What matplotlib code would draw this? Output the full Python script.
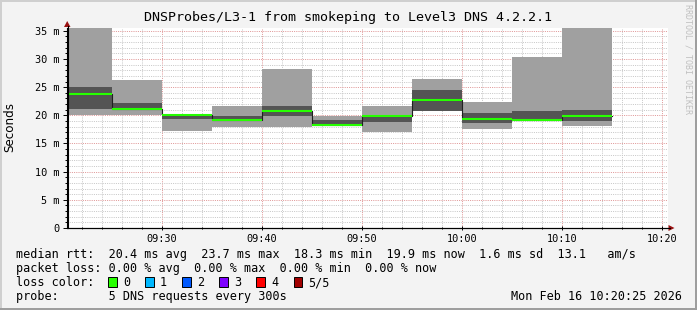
import matplotlib
matplotlib.use("Agg")
import matplotlib.pyplot as plt
from matplotlib.patches import Rectangle, Polygon
from matplotlib.ticker import FixedLocator, MultipleLocator

W, H = 697, 310

title = "DNSProbes/L3-1 from smokeping to Level3 DNS 4.2.2.1"

# one bin every 5 minutes, 5 pings sorted per bin (ms)
bin_starts = ["09:20", "09:25", "09:30", "09:35", "09:40", "09:45",
              "09:50", "09:55", "10:00", "10:05", "10:10"]
ping_min = [20.1, 20.1, 17.3, 17.9, 17.9, 18.2, 17.0, 20.7, 17.5, 19.0, 18.1]
ping_lo = [21.2, 21.0, 19.3, 19.0, 19.9, 18.25, 18.8, 20.8, 18.7, 19.0, 19.05]
median = [23.7, 21.1, 20.1, 19.1, 20.8, 18.3, 19.8, 22.7, 19.4, 19.1, 19.9]
ping_hi = [25.0, 22.2, 20.1, 19.9, 21.65, 19.2, 20.0, 24.5, 20.4, 20.8, 20.95]
ping_max = [38.0, 26.3, 20.25, 21.65, 28.2, 19.9, 21.65, 26.45, 22.35, 30.3, 37.0]

x_ticks = ["09:30", "09:40", "09:50", "10:00", "10:10", "10:20"]
y_ticks = [0, 5, 10, 15, 20, 25, 30, 35]
y_labels = ["0", "5 m", "10 m", "15 m", "20 m", "25 m", "30 m", "35 m"]

loss_labels = ["0", "1", "2", "3", "4", "5/5"]
loss_colors = ["#26ff00", "#00b8ff", "#0059ff", "#7e00ff", "#ff0000", "#a10000"]

legend_lines = [
    "median rtt:  20.4 ms avg  23.7 ms max  18.3 ms min  19.9 ms now  1.6 ms sd  13.1   am/s",
    "packet loss: 0.00 % avg  0.00 % max  0.00 % min  0.00 % now",
    "loss color:",
    "probe:       5 DNS requests every 300s",
]
stamp = "Mon Feb 16 10:20:25 2026"


def minutes(hhmm):
    h, m = hhmm.split(":")
    return int(h) * 60 + int(m)


def fx(x):
    return x / W


def fy(y):
    return 1 - y / H


plt.rcParams['font.family'] = ['DejaVu Sans Mono']

fig = plt.figure(figsize=(W / 100, H / 100), dpi=100)
fig.patch.set_facecolor("#f3f3f3")

# 3d-ish frame around the canvas
fig.patches.append(Rectangle((0, fy(2)), 1, 2 / H, transform=fig.transFigure,
                             color="#cfcfcf", lw=0))
fig.patches.append(Rectangle((0, 0), 2 / W, 1, transform=fig.transFigure,
                             color="#cfcfcf", lw=0))
fig.patches.append(Rectangle((0, 0), 1, 2 / H, transform=fig.transFigure,
                             color="#9e9e9e", lw=0))
fig.patches.append(Rectangle((fx(W - 2), 0), 2 / W, 1, transform=fig.transFigure,
                             color="#9e9e9e", lw=0))

ax = fig.add_axes([fx(67), fy(228), 601 / W, 200 / H])
ax.set_facecolor("white")

starts = [minutes(s) for s in bin_starts]
width = 5

ax.bar(starts, [b - a for a, b in zip(ping_min, ping_max)], bottom=ping_min,
       width=width, align="edge", color="#a0a0a0", lw=0, zorder=2)
ax.bar(starts, [b - a for a, b in zip(ping_lo, ping_hi)], bottom=ping_lo,
       width=width, align="edge", color="#545454", lw=0, zorder=3)
ax.step(starts + [starts[-1] + width], median + [median[-1]], where="post",
        color="#202020", lw=0.8, zorder=4)
ax.hlines(median, starts, [s + width for s in starts], color=loss_colors[0],
          lw=1.5, zorder=5)

ax.set_xlim(minutes("09:20") + 0.5, minutes("10:20") + 0.6)
ax.set_ylim(0, 35.5)

ax.xaxis.set_major_locator(FixedLocator([minutes(t) for t in x_ticks]))
ax.set_xticklabels(x_ticks)
ax.xaxis.set_minor_locator(MultipleLocator(2))
ax.set_yticks(y_ticks)
ax.set_yticklabels(y_labels)
ax.yaxis.set_minor_locator(MultipleLocator(1))

ax.set_axisbelow(True)
ax.grid(which="minor", color="#c8c8c8", lw=0.72, ls=(0, (1, 1.2)), zorder=0)
ax.grid(which="major", color="#e09898", lw=0.72, ls=(0, (1, 1.2)), zorder=1)

for side in ("top", "right"):
    ax.spines[side].set_visible(False)
for side in ("left", "bottom"):
    ax.spines[side].set_color("black")
    ax.spines[side].set_linewidth(0.8)
    ax.spines[side].set_zorder(6)

ax.tick_params(which="major", length=3, width=0.7, color="black",
               labelsize=7.4, pad=2.5)
ax.tick_params(which="minor", length=1.5, width=0.7, color="black")
ax.tick_params(axis="x", which="both", direction="inout", pad=3)

# axis arrows
ax_col = "#9a1010"
fig.patches.append(Polygon([(fx(64), fy(27)), (fx(70.5), fy(27)), (fx(67.2), fy(21))],
                           closed=True, transform=fig.transFigure, color=ax_col, lw=0))
fig.lines.append(plt.Line2D([fx(67.5), fx(67.5)], [fy(228), fy(26)],
                            transform=fig.transFigure, color="black", lw=0.8))
fig.lines.append(plt.Line2D([fx(67), fx(670)], [fy(228), fy(228)],
                            transform=fig.transFigure, color="black", lw=0.8))
fig.patches.append(Polygon([(fx(668.5), fy(225)), (fx(668.5), fy(231)), (fx(674.5), fy(228))],
                           closed=True, transform=fig.transFigure, color=ax_col, lw=0))

fig.text(0.5, fy(18), title, ha="center", va="center", fontsize=9.6)
fig.text(fx(10), fy(127), "Seconds", rotation=90, ha="center", va="center",
         fontsize=8.6, family="DejaVu Sans")
fig.text(fx(688), fy(4), "RRDTOOL / TOBI OETIKER", rotation=270, ha="center",
         va="top", fontsize=6, color="#c0c0c0")

rows = [254.5, 268.5, 282.5, 296.5]
for txt, y in zip(legend_lines, rows):
    fig.text(fx(16), fy(y), txt, ha="left", va="center", fontsize=8.5)
fig.text(fx(682), fy(rows[3]), stamp, ha="right", va="center", fontsize=8.5)

for i, (lab, col) in enumerate(zip(loss_labels, loss_colors)):
    bx = 108 + 37.1 * i
    fig.patches.append(Rectangle((fx(bx), fy(287)), 8.5 / W, 10 / H,
                                 transform=fig.transFigure, facecolor=col,
                                 edgecolor="black", lw=0.7))
    fig.text(fx(bx + 15), fy(rows[2]), lab, ha="left", va="center", fontsize=8.5)

fig.savefig("out.png", dpi=100, facecolor=fig.get_facecolor())
